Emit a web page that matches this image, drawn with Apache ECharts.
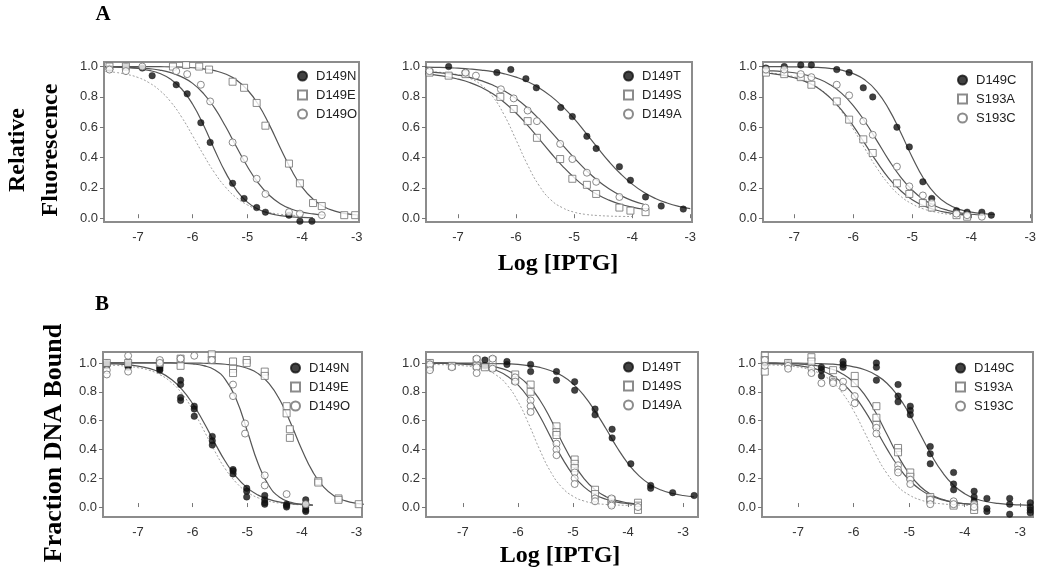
<!DOCTYPE html>
<html><head><meta charset="utf-8">
<script src="https://cdn.jsdelivr.net/npm/echarts@6/dist/echarts.min.js"></script>
<style>html,body{margin:0;padding:0;background:#fff}#c{width:1050px;height:573px}</style>
</head><body><div id="c"></div>
<script>
// ---------- tick labels ----------
const xTicks = [-7, -6, -5, -4, -3];
const yTicks = [0, 0.2, 0.4, 0.6, 0.8, 1.0];

// ---------- x positions of fitted-curve samples (log [IPTG]) ----------
const curveX = [-7.6,-7.4,-7.2,-7.0,-6.8,-6.6,-6.4,-6.2,-6.0,-5.8,-5.6,-5.4,-5.2,-5.0,-4.8,-4.6,-4.4,-4.2,-4.0,-3.8,-3.6,-3.4,-3.2,-3.0,-2.8];

// ---------- Panel A1 ----------
const a1Names = ['D149N', 'D149E', 'D149O'];
const a1N = [[-7.52,0.99],[-7.22,1.0],[-6.92,0.99],[-6.74,0.94],[-6.30,0.88],[-6.10,0.82],[-5.85,0.63],[-5.68,0.50],[-5.27,0.23],[-5.06,0.13],[-4.83,0.07],[-4.67,0.04],[-4.24,0.02],[-4.04,-0.02],[-3.82,-0.02]];
const a1E = [[-7.52,1.0],[-7.22,1.0],[-6.36,1.0],[-6.12,1.01],[-5.88,1.0],[-5.70,0.98],[-5.27,0.90],[-5.06,0.86],[-4.83,0.76],[-4.67,0.61],[-4.24,0.36],[-4.04,0.23],[-3.80,0.10],[-3.64,0.08],[-3.23,0.02],[-3.03,0.02]];
const a1O = [[-7.52,0.98],[-7.22,0.97],[-6.92,1.0],[-6.30,0.97],[-6.10,0.95],[-5.85,0.88],[-5.68,0.77],[-5.27,0.50],[-5.06,0.39],[-4.83,0.26],[-4.67,0.16],[-4.24,0.04],[-4.04,0.03],[-3.64,0.02]];
const fitA1N = [1.0,0.996,0.993,0.987,0.975,0.954,0.916,0.852,0.751,0.613,0.452,0.302,0.185,0.106,0.059,0.032,0.017,0.009,0.005,0.003,null,null,null,null,null];
const fitA1E = [1.0,1.0,1.0,1.0,1.0,0.999,0.998,0.996,0.992,0.985,0.973,0.951,0.912,0.847,0.750,0.617,0.465,0.321,0.205,0.126,0.075,0.047,0.030,0.021,null];
const fitA1O = [1.0,0.997,0.995,0.992,0.986,0.977,0.960,0.932,0.889,0.822,0.727,0.606,0.471,0.341,0.232,0.151,0.096,0.061,0.040,0.028,0.020,null,null,null,null];
const refA1 = [0.968,0.961,0.948,0.928,0.894,0.842,0.767,0.666,0.544,0.417,0.300,0.205,0.135,0.088,0.057,0.038,0.026,0.020,0.016,null,null,null,null,null,null];

// ---------- Panel A2 ----------
const a2Names = ['D149T', 'D149S', 'D149A'];
const a2T = [[-7.16,1.0],[-6.87,0.96],[-6.33,0.96],[-6.09,0.98],[-5.83,0.92],[-5.65,0.86],[-5.23,0.73],[-5.03,0.67],[-4.78,0.54],[-4.62,0.46],[-4.22,0.34],[-4.03,0.25],[-3.77,0.14],[-3.50,0.08],[-3.12,0.06]];
const a2S = [[-7.49,0.96],[-7.16,0.94],[-6.87,0.95],[-6.27,0.80],[-6.04,0.72],[-5.80,0.64],[-5.64,0.53],[-5.24,0.39],[-5.03,0.26],[-4.78,0.22],[-4.62,0.16],[-4.22,0.07],[-4.03,0.05],[-3.77,0.04]];
const a2A = [[-7.49,0.97],[-6.87,0.96],[-6.69,0.94],[-6.26,0.85],[-6.04,0.79],[-5.80,0.71],[-5.64,0.64],[-5.24,0.49],[-5.03,0.39],[-4.78,0.30],[-4.62,0.24],[-4.22,0.14],[-3.77,0.07]];
const fitA2T = [0.997,0.995,0.993,0.989,0.984,0.977,0.967,0.952,0.930,0.900,0.859,0.805,0.737,0.656,0.563,0.467,0.374,0.293,0.225,0.171,0.130,0.100,0.078,0.063,null];
const fitA2S = [0.953,0.945,0.934,0.917,0.895,0.863,0.820,0.763,0.694,0.612,0.522,0.430,0.344,0.268,0.205,0.156,0.119,0.092,0.073,0.059,null,null,null,null,null];
const fitA2A = [0.968,0.962,0.954,0.944,0.929,0.907,0.878,0.839,0.789,0.727,0.653,0.571,0.483,0.398,0.319,0.250,0.194,0.150,0.116,0.092,null,null,null,null,null];
const refA2 = [0.967,0.964,0.958,0.946,0.923,0.879,0.801,0.678,0.517,0.351,0.214,0.121,0.069,0.040,0.025,0.018,0.014,0.012,0.011,null,null,null,null,null,null];

// ---------- Panel A3 ----------
const a3Names = ['D149C', 'S193A', 'S193C'];
const a3C = [[-7.48,0.99],[-7.17,1.0],[-6.89,1.01],[-6.71,1.01],[-6.28,0.98],[-6.07,0.96],[-5.83,0.86],[-5.67,0.80],[-5.26,0.60],[-5.05,0.47],[-4.82,0.24],[-4.67,0.13],[-4.25,0.05],[-4.07,0.04],[-3.82,0.04],[-3.66,0.02]];
const a3A = [[-7.48,0.96],[-7.17,0.95],[-6.89,0.93],[-6.71,0.88],[-6.28,0.77],[-6.07,0.65],[-5.83,0.52],[-5.67,0.43],[-5.26,0.23],[-5.05,0.16],[-4.82,0.10],[-4.67,0.07],[-4.25,0.02],[-4.07,0.01]];
const a3S = [[-7.48,0.98],[-7.17,0.98],[-6.89,0.95],[-6.71,0.93],[-6.28,0.88],[-6.07,0.81],[-5.83,0.64],[-5.67,0.55],[-5.26,0.34],[-5.05,0.21],[-4.82,0.15],[-4.67,0.10],[-4.25,0.03],[-4.07,0.02],[-3.82,0.01]];
const fitA3C = [1.0,1.0,0.999,0.998,0.997,0.994,0.988,0.976,0.953,0.911,0.837,0.721,0.569,0.402,0.257,0.155,0.093,0.058,0.040,0.030,0.025,null,null,null,null];
const fitA3A = [0.960,0.954,0.943,0.926,0.899,0.859,0.797,0.715,0.609,0.490,0.371,0.265,0.183,0.121,0.081,0.054,0.037,0.026,0.021,null,null,null,null,null,null];
const fitA3S = [0.975,0.972,0.967,0.959,0.944,0.920,0.882,0.825,0.743,0.636,0.512,0.385,0.273,0.185,0.121,0.079,0.052,0.035,0.026,0.019,null,null,null,null,null];
const refA3 = [0.962,0.957,0.948,0.932,0.905,0.862,0.797,0.705,0.588,0.457,0.331,0.225,0.146,0.094,0.060,0.040,0.027,0.020,0.016,null,null,null,null,null,null];

// ---------- Panel B1 ----------
const b1Names = ['D149N', 'D149E', 'D149O'];
const b1N = [[-7.57,1.0],[-7.57,0.99],[-7.57,0.98],[-7.18,1.0],[-7.18,0.98],[-7.18,0.97],[-6.60,0.97],[-6.60,0.96],[-6.60,0.95],[-6.22,0.88],[-6.22,0.85],[-6.22,0.76],[-6.22,0.74],[-5.97,0.70],[-5.97,0.68],[-5.97,0.63],[-5.64,0.49],[-5.64,0.46],[-5.64,0.43],[-5.26,0.26],[-5.26,0.25],[-5.26,0.23],[-5.01,0.13],[-5.01,0.11],[-5.01,0.07],[-4.68,0.08],[-4.68,0.05],[-4.68,0.03],[-4.68,0.02],[-4.28,0.02],[-4.28,0.01],[-4.28,0.0],[-3.93,0.05],[-3.93,0.02],[-3.93,0.0],[-3.93,-0.02],[-3.93,-0.03]];
const b1E = [[-7.57,1.0],[-7.18,1.0],[-6.60,1.0],[-6.22,1.03],[-6.22,0.98],[-5.65,1.06],[-5.65,1.02],[-5.26,1.01],[-5.26,0.96],[-5.26,0.93],[-5.01,1.02],[-5.01,1.0],[-4.68,0.94],[-4.68,0.91],[-4.28,0.70],[-4.28,0.65],[-4.22,0.54],[-4.22,0.48],[-3.70,0.18],[-3.70,0.17],[-3.33,0.06],[-3.33,0.05],[-2.96,0.02]];
const b1O = [[-7.57,0.95],[-7.57,0.92],[-7.18,1.05],[-7.18,0.94],[-6.60,1.02],[-6.60,1.0],[-6.22,1.03],[-5.97,1.05],[-5.65,1.02],[-5.26,0.85],[-5.26,0.77],[-5.04,0.58],[-5.04,0.51],[-4.68,0.22],[-4.68,0.15],[-4.28,0.09],[-3.93,0.02]];
const fitB1N = [0.996,0.993,0.988,0.978,0.962,0.935,0.889,0.819,0.718,0.590,0.449,0.316,0.209,0.133,0.083,0.053,0.034,0.024,0.018,0.014,null,null,null,null,null];
const fitB1E = [1.0,1.0,1.0,1.0,1.0,1.0,1.0,0.999,0.999,0.998,0.996,0.991,0.982,0.963,0.926,0.856,0.741,0.578,0.398,0.244,0.138,0.075,0.043,0.026,0.018];
const fitB1O = [1.0,1.0,1.0,1.0,1.0,1.0,1.0,0.997,0.993,0.981,0.953,0.885,0.746,0.528,0.301,0.146,0.066,0.032,0.019,0.013,null,null,null,null,null];
const refB1 = [0.986,0.983,0.977,0.967,0.950,0.919,0.868,0.790,0.676,0.536,0.392,0.264,0.169,0.104,0.064,0.040,0.027,0.020,0.015,0.013,null,null,null,null,null];

// ---------- Panel B2 ----------
const b2Names = ['D149T', 'D149S', 'D149A'];
const b2T = [[-7.60,1.0],[-7.60,0.98],[-6.60,1.02],[-6.60,0.98],[-6.20,1.01],[-6.20,0.99],[-5.77,0.99],[-5.77,0.94],[-5.30,0.94],[-5.30,0.88],[-4.97,0.87],[-4.97,0.81],[-4.60,0.68],[-4.60,0.64],[-4.29,0.54],[-4.29,0.48],[-3.95,0.30],[-3.59,0.15],[-3.59,0.13],[-3.19,0.10],[-2.80,0.08]];
const b2S = [[-7.60,1.0],[-7.60,0.97],[-7.20,0.98],[-6.75,1.02],[-6.75,0.98],[-6.60,0.97],[-6.46,1.02],[-6.46,0.97],[-6.05,0.92],[-6.05,0.88],[-5.77,0.85],[-5.77,0.80],[-5.30,0.56],[-5.30,0.52],[-5.30,0.50],[-4.97,0.33],[-4.97,0.30],[-4.97,0.27],[-4.60,0.12],[-4.60,0.09],[-4.30,0.05],[-4.30,0.03],[-3.82,0.03],[-3.82,0.01],[-3.82,-0.02]];
const b2A = [[-7.60,0.99],[-7.60,0.95],[-7.20,0.97],[-6.75,1.03],[-6.75,0.97],[-6.75,0.93],[-6.46,1.03],[-6.46,0.96],[-6.05,0.90],[-6.05,0.87],[-5.77,0.74],[-5.77,0.70],[-5.77,0.66],[-5.30,0.44],[-5.30,0.40],[-5.30,0.36],[-4.97,0.24],[-4.97,0.20],[-4.97,0.16],[-4.60,0.06],[-4.60,0.04],[-4.30,0.06],[-4.30,0.02],[-4.30,0.01],[-3.82,0.0]];
const fitB2T = [1.0,1.0,1.0,0.999,0.999,0.998,0.996,0.994,0.990,0.981,0.969,0.946,0.911,0.855,0.774,0.666,0.543,0.413,0.302,0.216,0.157,0.118,0.095,0.080,0.071];
const fitB2S = [0.999,0.999,0.998,0.995,0.992,0.984,0.971,0.949,0.908,0.842,0.741,0.606,0.452,0.311,0.198,0.121,0.072,0.045,0.029,0.020,null,null,null,null,null];
const fitB2A = [0.998,0.997,0.995,0.991,0.984,0.971,0.949,0.910,0.848,0.753,0.628,0.482,0.341,0.224,0.140,0.086,0.054,0.034,0.024,0.018,null,null,null,null,null];
const refB2 = [0.989,0.988,0.986,0.981,0.972,0.954,0.917,0.848,0.733,0.573,0.394,0.241,0.136,0.075,0.042,0.026,0.018,0.014,0.012,0.011,null,null,null,null,null];

// ---------- Panel B3 ----------
const b3Names = ['D149C', 'S193A', 'S193C'];
const b3C = [[-7.60,1.0],[-7.18,1.0],[-6.58,0.97],[-6.58,0.95],[-6.58,0.91],[-6.19,1.01],[-6.19,0.99],[-6.19,0.97],[-5.59,1.0],[-5.59,0.97],[-5.59,0.88],[-5.20,0.85],[-5.20,0.77],[-5.20,0.73],[-4.98,0.70],[-4.98,0.67],[-4.98,0.64],[-4.62,0.42],[-4.62,0.37],[-4.62,0.30],[-4.20,0.24],[-4.20,0.16],[-4.20,0.12],[-3.83,0.11],[-3.83,0.07],[-3.83,0.04],[-3.83,0.02],[-3.60,0.06],[-3.60,-0.01],[-3.60,-0.03],[-3.19,0.06],[-3.19,0.02],[-3.19,-0.05],[-2.82,0.03],[-2.82,0.0],[-2.82,-0.02],[-2.82,-0.04]];
const b3A = [[-7.60,1.05],[-7.60,1.02],[-7.60,0.94],[-7.18,1.0],[-6.76,1.04],[-6.76,1.01],[-6.37,0.95],[-6.37,0.88],[-5.98,0.91],[-5.98,0.86],[-5.59,0.70],[-5.59,0.62],[-5.59,0.57],[-5.20,0.41],[-5.20,0.38],[-4.98,0.24],[-4.98,0.21],[-4.62,0.07],[-4.62,0.05],[-4.20,0.02],[-4.20,0.01],[-3.83,0.0],[-3.83,-0.02]];
const b3S = [[-7.60,1.02],[-7.60,0.98],[-7.18,0.98],[-7.18,0.96],[-6.76,0.96],[-6.76,0.93],[-6.58,0.86],[-6.37,0.87],[-6.37,0.86],[-6.19,0.87],[-6.19,0.83],[-5.98,0.77],[-5.98,0.72],[-5.59,0.55],[-5.59,0.51],[-5.20,0.29],[-5.20,0.26],[-5.20,0.24],[-4.98,0.19],[-4.98,0.16],[-4.62,0.05],[-4.62,0.02],[-4.20,0.04],[-4.20,0.02],[-3.83,0.02],[-3.83,0.0]];
const fitB3C = [1.0,1.0,0.999,0.999,0.997,0.995,0.992,0.985,0.973,0.953,0.917,0.859,0.770,0.649,0.505,0.361,0.240,0.151,0.093,0.058,0.037,0.025,0.018,0.015,0.013];
const fitB3A = [0.999,0.998,0.996,0.993,0.987,0.977,0.958,0.924,0.867,0.778,0.654,0.505,0.356,0.232,0.143,0.086,0.053,0.033,0.023,0.017,null,null,null,null,null];
const fitB3S = [0.997,0.994,0.990,0.982,0.969,0.949,0.914,0.859,0.778,0.669,0.539,0.404,0.283,0.188,0.121,0.077,0.050,0.033,0.024,0.018,null,null,null,null,null];
const refB3 = [0.987,0.985,0.980,0.971,0.955,0.925,0.873,0.790,0.668,0.517,0.363,0.233,0.141,0.084,0.050,0.031,0.022,0.016,0.013,0.012,null,null,null,null,null];

// ---------- layout (pixels / axis ranges) ----------
const panels = [
  {grid:{left:104,top:62,width:255,height:160}, xr:[-7.62,-2.96], yr:[-0.025,1.03], names:a1Names, pts:[a1N,a1E,a1O], fits:[fitA1N,fitA1E,fitA1O], ref:refA1, lg:{left:297,top:69}},
  {grid:{left:426,top:62,width:266,height:160}, xr:[-7.55,-2.97], yr:[-0.025,1.03], names:a2Names, pts:[a2T,a2S,a2A], fits:[fitA2T,fitA2S,fitA2A], ref:refA2, lg:{left:623,top:69}},
  {grid:{left:763,top:62,width:269,height:160}, xr:[-7.53,-2.97], yr:[-0.025,1.03], names:a3Names, pts:[a3C,a3A,a3S], fits:[fitA3C,fitA3A,fitA3S], ref:refA3, lg:{left:957,top:73}},
  {grid:{left:103,top:352,width:259,height:165}, xr:[-7.64,-2.90], yr:[-0.069,1.076], names:b1Names, pts:[b1N,b1E,b1O], fits:[fitB1N,fitB1E,fitB1O], ref:refB1, lg:{left:290,top:361}},
  {grid:{left:426,top:352,width:272,height:165}, xr:[-7.67,-2.73], yr:[-0.069,1.076], names:b2Names, pts:[b2T,b2S,b2A], fits:[fitB2T,fitB2S,fitB2A], ref:refB2, lg:{left:623,top:360}},
  {grid:{left:762,top:352,width:271,height:165}, xr:[-7.65,-2.77], yr:[-0.069,1.076], names:b3Names, pts:[b3C,b3A,b3S], fits:[fitB3C,fitB3A,fitB3S], ref:refB3, lg:{left:955,top:361}}
];

const markerStyles = [
  {symbol:'circle', size:6.5, itemStyle:{color:'#111', borderColor:'#111', borderWidth:0.5}},
  {symbol:'rect', size:7, itemStyle:{color:'#fff', borderColor:'#6e6e6e', borderWidth:1}},
  {symbol:'circle', size:7, itemStyle:{color:'#fff', borderColor:'#6e6e6e', borderWidth:1}}
];

const toLine = arr => curveX.map((x, i) => arr[i] == null ? null : [x, arr[i]]).filter(Boolean);

const grids = [], xAxes = [], yAxes = [], series = [], legends = [];
const labelFont = 'Liberation Sans, Arial, sans-serif';
panels.forEach((p, i) => {
  grids.push(Object.assign({show:true, borderColor:'#8c8c8c', borderWidth:2, backgroundColor:'transparent', containLabel:false}, p.grid));
  xAxes.push({type:'value', gridIndex:i, min:p.xr[0], max:p.xr[1],
    axisLine:{show:false}, splitLine:{show:false},
    axisTick:{show:true, inside:true, length:4, lineStyle:{color:'#777', width:1}, customValues:xTicks},
    axisLabel:{customValues:xTicks, margin:9, fontSize:13, color:'#333', fontFamily:labelFont, formatter:v => String(v)}});
  yAxes.push({type:'value', gridIndex:i, min:p.yr[0], max:p.yr[1],
    axisLine:{show:false}, splitLine:{show:false},
    axisTick:{show:true, inside:false, length:4, lineStyle:{color:'#777', width:1}, customValues:yTicks},
    axisLabel:{customValues:yTicks, margin:6, fontSize:13, color:'#333', fontFamily:labelFont, formatter:v => v.toFixed(1)}});
  // reference (dotted) curve
  series.push({type:'line', xAxisIndex:i, yAxisIndex:i, data:toLine(p.ref), smooth:true, showSymbol:false, symbol:'none', silent:true, z:1,
    lineStyle:{color:'#a0a0a0', width:1, type:[2,2]}});
  p.fits.forEach(f => {
    series.push({type:'line', xAxisIndex:i, yAxisIndex:i, data:toLine(f), smooth:true, showSymbol:false, symbol:'none', silent:true, z:2,
      lineStyle:{color:'#555', width:1.2}});
  });
  p.pts.forEach((pts, j) => {
    const m = markerStyles[j];
    series.push({type:'scatter', name:p.names[j], xAxisIndex:i, yAxisIndex:i, data:pts, symbol:m.symbol, symbolSize:m.size, itemStyle:m.itemStyle, z:3});
  });
  legends.push({show:true, orient:'vertical', left:p.lg.left, top:p.lg.top, data:p.names, selectedMode:false,
    itemWidth:9, itemHeight:9, itemGap:5, padding:0,
    textStyle:{fontSize:13, color:'#222', fontFamily:labelFont, lineHeight:14, padding:[0,0,0,4]}});
});

const serif = 'bold 24px "Liberation Serif", "Times New Roman", serif';
const graphic = [
  {type:'text', x:103, y:15, style:{text:'A', font:'bold 21px "Liberation Serif", serif', textAlign:'center', textVerticalAlign:'middle', fill:'#000'}},
  {type:'text', x:102, y:305, style:{text:'B', font:'bold 21px "Liberation Serif", serif', textAlign:'center', textVerticalAlign:'middle', fill:'#000'}},
  {type:'text', x:18, y:150, rotation:Math.PI/2, style:{text:'Relative', font:serif, textAlign:'center', textVerticalAlign:'middle', fill:'#000'}},
  {type:'text', x:51, y:150, rotation:Math.PI/2, style:{text:'Fluorescence', font:serif, textAlign:'center', textVerticalAlign:'middle', fill:'#000'}},
  {type:'text', x:54, y:443, rotation:Math.PI/2, style:{text:'Fraction DNA Bound', font:'bold 26px "Liberation Serif", serif', textAlign:'center', textVerticalAlign:'middle', fill:'#000'}},
  {type:'text', x:558, y:264, style:{text:'Log [IPTG]', font:serif, textAlign:'center', textVerticalAlign:'middle', fill:'#000'}},
  {type:'text', x:560, y:556, style:{text:'Log [IPTG]', font:serif, textAlign:'center', textVerticalAlign:'middle', fill:'#000'}}
];

const chart = echarts.init(document.getElementById('c'), null, {renderer:'canvas'});
chart.setOption({
  animation:false,
  backgroundColor:'#fff',
  grid:grids, xAxis:xAxes, yAxis:yAxes, legend:legends, series:series, graphic:graphic
});
</script>
</body></html>
